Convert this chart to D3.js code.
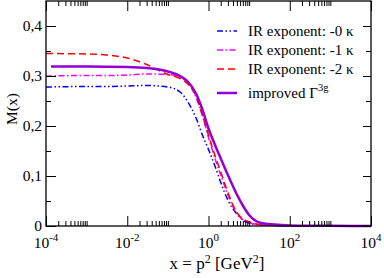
<!DOCTYPE html>
<html>
<head>
<meta charset="utf-8">
<script src="https://cdn.jsdelivr.net/npm/d3@7/dist/d3.min.js"></script>
<style>
  body { margin: 0; background: #fff; }
</style>
</head>
<body>
<svg id="chart" width="384" height="278"></svg>
<script>
// x values (p^2 in GeV^2) shared by the three IR-exponent curves
var xGrid = [1e-4, 1e-3, 3e-3, 1e-2, 0.03, 0.1, 0.2, 0.3, 0.5, 0.7, 1, 1.5, 2, 3, 5, 7, 10, 20, 100];
var irExp0 = [0.278, 0.279, 0.279, 0.280, 0.281, 0.278, 0.268, 0.250, 0.215, 0.183, 0.153, 0.116, 0.087, 0.052, 0.024, 0.012, 0.006, 0.002, 0.0005];
var irExp1 = [0.300, 0.301, 0.301, 0.302, 0.304, 0.303, 0.298, 0.288, 0.256, 0.222, 0.177, 0.131, 0.102, 0.062, 0.025, 0.013, 0.007, 0.002, 0.0005];
var irExp2 = [0.345, 0.344, 0.342, 0.336, 0.323, 0.303, 0.295, 0.285, 0.259, 0.223, 0.182, 0.137, 0.108, 0.067, 0.027, 0.014, 0.008, 0.003, 0.0006];

// improved vertex curve
var xImproved = [1.33e-4, 1e-3, 1e-2, 0.03, 0.1, 0.2, 0.3, 0.5, 0.7, 1, 1.5, 2, 3, 5, 7, 10, 20, 100, 1e3, 1e4];
var improved = [0.319, 0.319, 0.318, 0.316, 0.309, 0.300, 0.290, 0.264, 0.234, 0.195, 0.159, 0.135, 0.102, 0.063, 0.041, 0.022, 0.006, 0.0012, 0.0003, 0.0001];

var xMajor = [1e-4, 1e-2, 1, 1e2, 1e4];
var xExpLabels = ["-4", "-2", "0", "2", "4"];
var yMajor = [0, 0.1, 0.2, 0.3, 0.4];
var yLabels = ["0", "0,1", "0,2", "0,3", "0,4"];

var legendNames = ["IR exponent: -0 \u03ba", "IR exponent: -1 \u03ba", "IR exponent: -2 \u03ba", "improved \u0393"];

var svg = d3.select('#chart')
    .attr('font-family', "'Liberation Serif', 'Times New Roman', Times, serif");
var pL = 46, pR = 371, pT = 1, pB = 226;

var x = d3.scaleLog().domain([1e-4, 1e4]).range([pL, pR]);
var y = d3.scaleLinear().domain([0, 0.45]).range([pB, pT]);

// minor ticks: 2..10 times each labelled decade
var xMinor = [];
[-4, -2, 0, 2].forEach(function(n) {
    for (var k = 2; k <= 10; k++) xMinor.push(k * Math.pow(10, n));
});
var yMinor = [0.05, 0.15, 0.25, 0.35];

var series = [
    { xs: xGrid, ys: irExp0, color: '#0000ff', width: 1.5, dash: '6,2.5,1.5,2.5,1.5,2.5' },
    { xs: xGrid, ys: irExp1, color: '#ff00ff', width: 1.5, dash: '6,2.5,1.5,2.5' },
    { xs: xGrid, ys: irExp2, color: '#ff0000', width: 1.5, dash: '7,4' },
    { xs: xImproved, ys: improved, color: '#9400d3', width: 2.5, dash: null }
];

var line = d3.line()
    .x(function(d) { return x(d[0]); })
    .y(function(d) { return y(d[1]); })
    .curve(d3.curveMonotoneX);

var plot = svg.append('g');
series.forEach(function(s) {
    var pts = s.xs.map(function(v, i) { return [v, s.ys[i]]; });
    plot.append('path')
        .attr('d', line(pts))
        .attr('fill', 'none')
        .attr('stroke', s.color)
        .attr('stroke-width', s.width)
        .attr('stroke-dasharray', s.dash);
});

// frame
svg.append('rect')
    .attr('x', pL).attr('y', pT)
    .attr('width', pR - pL).attr('height', pB - pT)
    .attr('fill', 'none').attr('stroke', '#000').attr('stroke-width', 1.3);

// ticks, all pointing inward, mirrored on opposite sides
var fmt = function() { return ''; };
function addAxis(axis, tx, ty) {
    var g = svg.append('g').attr('transform', 'translate(' + tx + ',' + ty + ')').call(axis);
    g.select('.domain').remove();
    g.selectAll('line').attr('stroke', '#000').attr('stroke-width', 1);
}
addAxis(d3.axisBottom(x).tickValues(xMajor).tickSize(-10).tickFormat(fmt), 0, pB);
addAxis(d3.axisBottom(x).tickValues(xMinor).tickSize(-5).tickFormat(fmt), 0, pB);
addAxis(d3.axisTop(x).tickValues(xMajor).tickSize(-10).tickFormat(fmt), 0, pT);
addAxis(d3.axisTop(x).tickValues(xMinor).tickSize(-5).tickFormat(fmt), 0, pT);
addAxis(d3.axisLeft(y).tickValues(yMajor).tickSize(-10).tickFormat(fmt), pL, 0);
addAxis(d3.axisLeft(y).tickValues(yMinor).tickSize(-5).tickFormat(fmt), pL, 0);
addAxis(d3.axisRight(y).tickValues(yMajor).tickSize(-8).tickFormat(fmt), pR, 0);
addAxis(d3.axisRight(y).tickValues(yMinor).tickSize(-5).tickFormat(fmt), pR, 0);

// x tick labels 10^n
xMajor.forEach(function(v, i) {
    var t = svg.append('text')
        .attr('x', x(v)).attr('y', 248)
        .attr('text-anchor', 'middle')
        .attr('font-size', 15.5);
    t.append('tspan').text('10');
    t.append('tspan').attr('dy', -7).attr('font-size', 11).text(xExpLabels[i]);
});

// y tick labels
yMajor.forEach(function(v, i) {
    svg.append('text')
        .attr('x', 42).attr('y', y(v))
        .attr('dy', '0.35em')
        .attr('text-anchor', 'end')
        .attr('font-size', 15.5)
        .text(yLabels[i]);
});

// axis titles
var xt = svg.append('text')
    .attr('x', 217).attr('y', 269)
    .attr('text-anchor', 'middle')
    .attr('font-size', 17);
xt.append('tspan').text('x = p');
xt.append('tspan').attr('dy', -6).attr('font-size', 12).text('2');
xt.append('tspan').attr('dy', 6).text(' [GeV');
xt.append('tspan').attr('dy', -6).attr('font-size', 12).text('2');
xt.append('tspan').attr('dy', 6).text(']');

svg.append('text')
    .attr('transform', 'translate(17,109) rotate(-90)')
    .attr('text-anchor', 'middle')
    .attr('font-size', 15.5)
    .text('M(x)');

// legend
var legendY = [31, 50, 69, 93];
series.forEach(function(s, i) {
    var ly = legendY[i];
    svg.append('line')
        .attr('x1', 217).attr('x2', 237)
        .attr('y1', ly).attr('y2', ly)
        .attr('stroke', s.color)
        .attr('stroke-width', s.width)
        .attr('stroke-dasharray', s.dash);
    var t = svg.append('text')
        .attr('x', 248).attr('y', ly)
        .attr('dy', '0.35em')
        .attr('font-size', 15)
        .text(legendNames[i]);
    if (i === 3) {
        t.append('tspan').attr('dy', -7).attr('font-size', 10.5).text('3g');
    }
});
</script>
</body>
</html>
